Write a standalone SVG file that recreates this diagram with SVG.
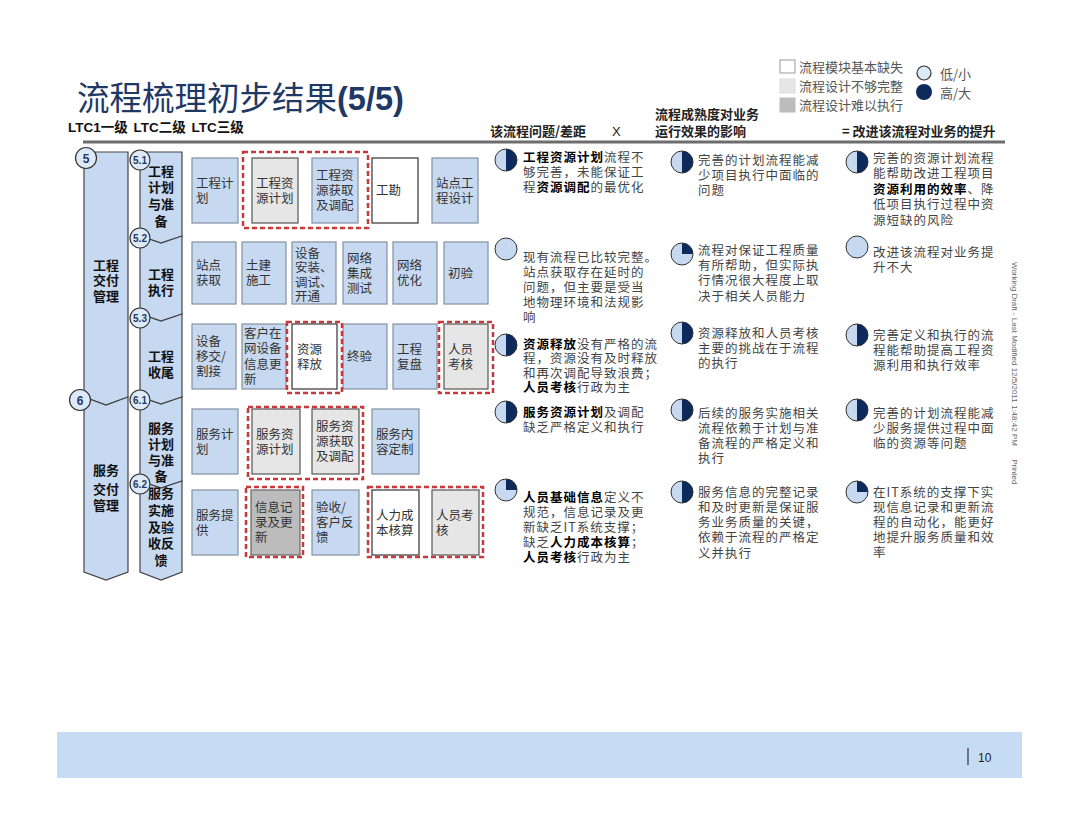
<svg xmlns="http://www.w3.org/2000/svg" xmlns:xlink="http://www.w3.org/1999/xlink" width="1080" height="832" viewBox="0 0 1080 832">
<style>
.cj{font-family:"Noto Sans CJK SC","Liberation Sans",sans-serif}
.bx{fill:#c6d9f1;stroke:#8391a1;stroke-width:1.2}
.gy{fill:#e6e6e6;stroke:#555;stroke-width:1.2}
.dg{fill:#bcbcbc;stroke:#666;stroke-width:1.2}
.wh{fill:#fff;stroke:#333;stroke-width:1.2}
.dash{fill:none;stroke:#c8373a;stroke-width:2.5;stroke-dasharray:5 3}
.bt{font-family:"Noto Sans CJK SC",sans-serif;font-size:12.5px;fill:#333}
.ct{font-family:"Noto Sans CJK SC",sans-serif;font-size:12.5px;fill:#444;letter-spacing:1px}
.b{font-weight:700;fill:#000}
.ban{fill:#c6d9f1;stroke:#444;stroke-width:1.2}
.bant{font-family:"Noto Sans CJK SC",sans-serif;font-size:13px;font-weight:700;fill:#111;text-anchor:middle}
.lc{fill:#dce9f7;stroke:#333;stroke-width:1.2}
.lct{font-family:"Liberation Sans",sans-serif;font-weight:700;fill:#1f3864;text-anchor:middle}
.hbl{fill:#c6d9f1}
.hbd{fill:#0c2a5c}
.hbo{fill:none;stroke:#333;stroke-width:1}
.hd{font-family:"Noto Sans CJK SC",sans-serif;font-size:13px;font-weight:700;fill:#222}
.lg{font-family:"Noto Sans CJK SC",sans-serif;font-size:13px;fill:#555}
</style>
<defs>
<g id="hb-e"><circle r="11" class="hbl"/><circle r="11" class="hbo"/></g>
<g id="hb-h"><circle r="11" class="hbl"/><path d="M0,-11 A11,11 0 0 1 0,11 Z" class="hbd"/><circle r="11" class="hbo"/></g>
<g id="hb-q"><circle r="11" class="hbl"/><path d="M0,0 L0,-11 A11,11 0 0 1 11,0 Z" class="hbd"/><circle r="11" class="hbo"/></g>
</defs>
<rect width="1080" height="832" fill="#fff"/>

<g id="title">
<text x="77" y="110" class="cj" font-size="32.5" fill="#1f3864">流程梳理初步结果<tspan font-family="Liberation Sans" font-weight="700">(5/5)</tspan></text>
<text x="68" y="132" font-family="Liberation Sans,Noto Sans CJK SC,sans-serif" font-size="13.5" font-weight="700" fill="#111" word-spacing="2">LTC1一级 LTC二级 LTC三级</text>
<line x1="83" y1="142" x2="1005" y2="142" stroke="#6d6d6d" stroke-width="3"/>
</g>

<g id="legend">
<rect x="780" y="60" width="15" height="13" fill="#fff" stroke="#999"/>
<rect x="780" y="79" width="15" height="14" fill="#e6e6e6" stroke="#ddd"/>
<rect x="780" y="98" width="15" height="14" fill="#bcbcbc" stroke="#bbb"/>
<text x="799" y="71.5" class="lg">流程模块基本缺失</text>
<text x="799" y="90.5" class="lg">流程设计不够完整</text>
<text x="799" y="109.5" class="lg">流程设计难以执行</text>
<circle cx="924" cy="73" r="7" fill="#dce9f7" stroke="#333" stroke-width="1.2"/>
<circle cx="924" cy="92" r="8" fill="#0c2a5c"/>
<text x="940" y="79" class="lg">低/小</text>
<text x="940" y="98" class="lg">高/大</text>
</g>

<g id="header">
<text x="490" y="136" class="hd">该流程问题/差距</text>
<text x="612" y="136" font-family="Liberation Sans,sans-serif" font-size="13" fill="#222">X</text>
<text x="655" y="119" class="hd">流程成熟度对业务</text>
<text x="655" y="136" class="hd">运行效果的影响</text>
<text x="842" y="136" class="hd" font-size="13.5">= 改进该流程对业务的提升</text>
</g>

<g id="level1">
<path d="M84,152 L128,152 L128,397 L106,405 L84,397 Z" class="ban"/>
<path d="M84,397 L106,405 L128,397 L128,572 L106,580 L84,572 Z" class="ban"/>
<text class="bant"><tspan x="106" y="270">工程</tspan><tspan x="106" y="285">交付</tspan><tspan x="106" y="301">管理</tspan></text>
<text class="bant"><tspan x="106" y="475">服务</tspan><tspan x="106" y="494">交付</tspan><tspan x="106" y="510">管理</tspan></text>
<circle cx="86" cy="158" r="10.5" class="lc"/><text x="86" y="162.5" class="lct" font-size="12">5</text>
<circle cx="80" cy="400" r="10.5" class="lc"/><text x="80" y="404.5" class="lct" font-size="12">6</text>
</g>

<g id="level2">
<path d="M140,152 L182,152 L182,236 L161,243 L140,236 Z" class="ban"/>
<path d="M140,236 L161,243 L182,236 L182,314 L161,321 L140,314 Z" class="ban"/>
<path d="M140,314 L161,321 L182,314 L182,397 L161,404 L140,397 Z" class="ban"/>
<path d="M140,397 L161,404 L182,397 L182,481 L161,488 L140,481 Z" class="ban"/>
<path d="M140,481 L161,488 L182,481 L182,572 L161,580 L140,572 Z" class="ban"/>
<text class="bant"><tspan x="161" y="176">工程</tspan><tspan x="161" y="192">计划</tspan><tspan x="161" y="209">与准</tspan><tspan x="161" y="226">备</tspan></text>
<text class="bant"><tspan x="161" y="279">工程</tspan><tspan x="161" y="295">执行</tspan></text>
<text class="bant"><tspan x="161" y="361">工程</tspan><tspan x="161" y="377">收尾</tspan></text>
<text class="bant"><tspan x="161" y="433">服务</tspan><tspan x="161" y="449">计划</tspan><tspan x="161" y="465">与准</tspan><tspan x="161" y="481">备</tspan></text>
<text class="bant"><tspan x="161" y="498">服务</tspan><tspan x="161" y="515">实施</tspan><tspan x="161" y="532">及验</tspan><tspan x="161" y="548">收反</tspan><tspan x="161" y="565">馈</tspan></text>
<circle cx="140" cy="160" r="10" class="lc"/><text x="140" y="163.5" class="lct" font-size="10">5.1</text>
<circle cx="140" cy="238" r="10" class="lc"/><text x="140" y="241.5" class="lct" font-size="10">5.2</text>
<circle cx="140" cy="318" r="10" class="lc"/><text x="140" y="321.5" class="lct" font-size="10">5.3</text>
<circle cx="140" cy="400" r="10" class="lc"/><text x="140" y="403.5" class="lct" font-size="10">6.1</text>
<circle cx="140" cy="484" r="10" class="lc"/><text x="140" y="487.5" class="lct" font-size="10">6.2</text>
</g>

<g id="row-5-1">
<rect x="192" y="158" width="46" height="65" class="bx"/>
<text class="bt"><tspan x="196" y="187.5">工程计</tspan><tspan x="196" y="202.5">划</tspan></text>
<rect x="252" y="158" width="46" height="65" class="gy"/>
<text class="bt"><tspan x="256" y="187.5">工程资</tspan><tspan x="256" y="202.5">源计划</tspan></text>
<rect x="312" y="158" width="46" height="65" class="bx"/>
<text class="bt"><tspan x="316" y="180">工程资</tspan><tspan x="316" y="195">源获取</tspan><tspan x="316" y="210">及调配</tspan></text>
<rect x="372" y="158" width="46" height="65" class="wh"/>
<text class="bt"><tspan x="376" y="195">工勘</tspan></text>
<rect x="432" y="158" width="46" height="65" class="bx"/>
<text class="bt"><tspan x="436" y="187.5">站点工</tspan><tspan x="436" y="202.5">程设计</tspan></text>
<rect x="243" y="152" width="125" height="76" class="dash"/>
</g>

<g id="row-5-2">
<rect x="192" y="242" width="44" height="62" class="bx"/>
<text class="bt"><tspan x="196" y="270">站点</tspan><tspan x="196" y="285">获取</tspan></text>
<rect x="242" y="242" width="44" height="62" class="bx"/>
<text class="bt"><tspan x="246" y="270">土建</tspan><tspan x="246" y="285">施工</tspan></text>
<rect x="292" y="242" width="44" height="62" class="bx"/>
<text class="bt"><tspan x="295" y="257.5">设备</tspan><tspan x="295" y="272">安装、</tspan><tspan x="295" y="286.5">调试、</tspan><tspan x="295" y="301">开通</tspan></text>
<rect x="343" y="242" width="44" height="62" class="bx"/>
<text class="bt"><tspan x="347" y="262.5">网络</tspan><tspan x="347" y="277.5">集成</tspan><tspan x="347" y="292.5">测试</tspan></text>
<rect x="393" y="242" width="44" height="62" class="bx"/>
<text class="bt"><tspan x="397" y="270">网络</tspan><tspan x="397" y="285">优化</tspan></text>
<rect x="444" y="242" width="44" height="62" class="bx"/>
<text class="bt"><tspan x="448" y="277.5">初验</tspan></text>
</g>

<g id="row-5-3">
<rect x="192" y="324" width="44" height="65" class="bx"/>
<text class="bt"><tspan x="196" y="346">设备</tspan><tspan x="196" y="361">移交/</tspan><tspan x="196" y="376">割接</tspan></text>
<rect x="242" y="324" width="44" height="65" class="bx"/>
<text class="bt"><tspan x="244" y="337.5">客户在</tspan><tspan x="244" y="353">网设备</tspan><tspan x="244" y="368.5">信息更</tspan><tspan x="244" y="384">新</tspan></text>
<rect x="292" y="324" width="45" height="65" class="wh"/>
<text class="bt"><tspan x="297" y="353.5">资源</tspan><tspan x="297" y="368.5">释放</tspan></text>
<rect x="343" y="324" width="44" height="65" class="bx"/>
<text class="bt"><tspan x="347" y="361">终验</tspan></text>
<rect x="393" y="324" width="44" height="65" class="bx"/>
<text class="bt"><tspan x="397" y="353.5">工程</tspan><tspan x="397" y="368.5">复盘</tspan></text>
<rect x="444" y="324" width="44" height="65" class="gy"/>
<text class="bt"><tspan x="448" y="353.5">人员</tspan><tspan x="448" y="368.5">考核</tspan></text>
<rect x="287" y="322" width="55" height="71" class="dash"/>
<rect x="439" y="322" width="54" height="71" class="dash"/>
</g>

<g id="row-6-1">
<rect x="192" y="409" width="46" height="65" class="bx"/>
<text class="bt"><tspan x="196" y="438.5">服务计</tspan><tspan x="196" y="453.5">划</tspan></text>
<rect x="252" y="409" width="48" height="65" class="gy"/>
<text class="bt"><tspan x="256" y="438.5">服务资</tspan><tspan x="256" y="453.5">源计划</tspan></text>
<rect x="312" y="409" width="47" height="65" class="gy"/>
<text class="bt"><tspan x="316" y="431">服务资</tspan><tspan x="316" y="446">源获取</tspan><tspan x="316" y="461">及调配</tspan></text>
<rect x="372" y="409" width="47" height="65" class="bx"/>
<text class="bt"><tspan x="376" y="438.5">服务内</tspan><tspan x="376" y="453.5">容定制</tspan></text>
<rect x="248" y="407" width="115" height="72" class="dash"/>
</g>

<g id="row-6-2">
<rect x="192" y="490" width="46" height="65" class="bx"/>
<text class="bt"><tspan x="196" y="519.5">服务提</tspan><tspan x="196" y="534.5">供</tspan></text>
<rect x="251" y="490" width="49" height="65" class="dg"/>
<text class="bt"><tspan x="255" y="512">信息记</tspan><tspan x="255" y="527">录及更</tspan><tspan x="255" y="542">新</tspan></text>
<rect x="312" y="490" width="47" height="65" class="bx"/>
<text class="bt"><tspan x="316" y="512">验收/</tspan><tspan x="316" y="527">客户反</tspan><tspan x="316" y="542">馈</tspan></text>
<rect x="372" y="490" width="47" height="65" class="wh"/>
<text class="bt"><tspan x="376" y="519.5">人力成</tspan><tspan x="376" y="534.5">本核算</tspan></text>
<rect x="432" y="490" width="47" height="65" class="gy"/>
<text class="bt"><tspan x="436" y="519.5">人员考</tspan><tspan x="436" y="534.5">核</tspan></text>
<rect x="246" y="487" width="57" height="70" class="dash"/>
<rect x="368" y="487" width="115" height="70" class="dash"/>
</g>

<g id="col-gap">
<use xlink:href="#hb-h" x="506" y="160"/>
<text class="ct"><tspan x="523" y="161.5"><tspan class="b">工程资源计划</tspan>流程不</tspan><tspan x="523" y="176.5">够完善，未能保证工</tspan><tspan x="523" y="191.5">程<tspan class="b">资源调配</tspan>的最优化</tspan></text>
<use xlink:href="#hb-e" x="506" y="249"/>
<text class="ct"><tspan x="523" y="261.5">现有流程已比较完整。</tspan><tspan x="523" y="276.5">站点获取存在延时的</tspan><tspan x="523" y="291.5">问题，但主要是受当</tspan><tspan x="523" y="306.5">地物理环境和法规影</tspan><tspan x="523" y="321.5">响</tspan></text>
<use xlink:href="#hb-h" x="506" y="345"/>
<text class="ct"><tspan x="523" y="348.5"><tspan class="b">资源释放</tspan>没有严格的流</tspan><tspan x="523" y="363">程，资源没有及时释放</tspan><tspan x="523" y="377.5">和再次调配导致浪费；</tspan><tspan x="523" y="392"><tspan class="b">人员考核</tspan>行政为主</tspan></text>
<use xlink:href="#hb-h" x="506" y="412"/>
<text class="ct"><tspan x="523" y="416.5"><tspan class="b">服务资源计划</tspan>及调配</tspan><tspan x="523" y="432">缺乏严格定义和执行</tspan></text>
<use xlink:href="#hb-q" x="506" y="490"/>
<text class="ct"><tspan x="523" y="502"><tspan class="b">人员基础信息</tspan>定义不</tspan><tspan x="523" y="517">规范，信息记录及更</tspan><tspan x="523" y="532">新缺乏IT系统支撑；</tspan><tspan x="523" y="547">缺乏<tspan class="b">人力成本核算</tspan>；</tspan><tspan x="523" y="562"><tspan class="b">人员考核</tspan>行政为主</tspan></text>
</g>

<g id="col-maturity">
<use xlink:href="#hb-h" x="682" y="162"/>
<text class="ct"><tspan x="698" y="164.5">完善的计划流程能减</tspan><tspan x="698" y="179.5">少项目执行中面临的</tspan><tspan x="698" y="194.5">问题</tspan></text>
<use xlink:href="#hb-q" x="682" y="254"/>
<text class="ct"><tspan x="698" y="254.5">流程对保证工程质量</tspan><tspan x="698" y="269.5">有所帮助，但实际执</tspan><tspan x="698" y="285">行情况很大程度上取</tspan><tspan x="698" y="300.5">决于相关人员能力</tspan></text>
<use xlink:href="#hb-h" x="682" y="333"/>
<text class="ct"><tspan x="698" y="337.5">资源释放和人员考核</tspan><tspan x="698" y="352.5">主要的挑战在于流程</tspan><tspan x="698" y="367.5">的执行</tspan></text>
<use xlink:href="#hb-h" x="682" y="410"/>
<text class="ct"><tspan x="698" y="417.5">后续的服务实施相关</tspan><tspan x="698" y="432.5">流程依赖于计划与准</tspan><tspan x="698" y="447.5">备流程的严格定义和</tspan><tspan x="698" y="462.5">执行</tspan></text>
<use xlink:href="#hb-h" x="682" y="492"/>
<text class="ct"><tspan x="698" y="496.5">服务信息的完整记录</tspan><tspan x="698" y="511.5">和及时更新是保证服</tspan><tspan x="698" y="526.5">务业务质量的关键，</tspan><tspan x="698" y="542">依赖于流程的严格定</tspan><tspan x="698" y="557.5">义并执行</tspan></text>
</g>

<g id="col-improve">
<use xlink:href="#hb-h" x="857" y="162"/>
<text class="ct"><tspan x="873" y="162.5">完善的资源计划流程</tspan><tspan x="873" y="178">能帮助改进工程项目</tspan><tspan x="873" y="193.5"><tspan class="b">资源利用的效率</tspan>、降</tspan><tspan x="873" y="209">低项目执行过程中资</tspan><tspan x="873" y="224.5">源短缺的风险</tspan></text>
<use xlink:href="#hb-e" x="857" y="247"/>
<text class="ct"><tspan x="873" y="256.5">改进该流程对业务提</tspan><tspan x="873" y="271.5">升不大</tspan></text>
<use xlink:href="#hb-h" x="857" y="335"/>
<text class="ct"><tspan x="873" y="339.5">完善定义和执行的流</tspan><tspan x="873" y="354.5">程能帮助提高工程资</tspan><tspan x="873" y="370">源利用和执行效率</tspan></text>
<use xlink:href="#hb-h" x="857" y="410"/>
<text class="ct"><tspan x="873" y="417.5">完善的计划流程能减</tspan><tspan x="873" y="432.5">少服务提供过程中面</tspan><tspan x="873" y="447.5">临的资源等问题</tspan></text>
<use xlink:href="#hb-q" x="857" y="492"/>
<text class="ct"><tspan x="873" y="496.5">在IT系统的支撑下实</tspan><tspan x="873" y="511.5">现信息记录和更新流</tspan><tspan x="873" y="526.5">程的自动化，能更好</tspan><tspan x="873" y="541.5">地提升服务质量和效</tspan><tspan x="873" y="557">率</tspan></text>
</g>

<g id="side-note">
<text transform="translate(1012,262) rotate(90)" font-family="Liberation Sans,sans-serif" font-size="8" fill="#666" xml:space="preserve">Working Draft - Last Modified 12/5/2011 1:48:42 PM      Printed</text>
</g>

<g id="footer">
<rect x="57" y="732" width="965" height="46" fill="#c6dcf5"/>
<line x1="968" y1="748" x2="968" y2="765" stroke="#333" stroke-width="1.2"/>
<text x="978" y="762" font-family="Liberation Sans,sans-serif" font-size="12" fill="#222">10</text>
</g>
</svg>
